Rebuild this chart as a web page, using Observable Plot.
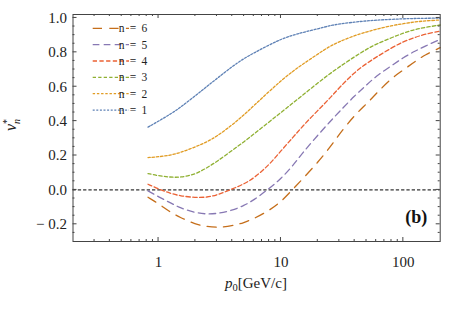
<!DOCTYPE html>
<html><head><meta charset="utf-8">
<script src="https://cdn.jsdelivr.net/npm/d3@7"></script>
<script src="https://cdn.jsdelivr.net/npm/@observablehq/plot@0.6"></script>
<style>body{margin:0;background:#fff}</style>
</head><body><div id="chart"></div>
<script>
// momentum grid p0 [GeV/c]
const p0 = [0.82, 1, 1.25, 1.5, 2, 2.5, 3, 4, 5, 6, 8, 10, 12.5, 15, 20, 25, 30, 40, 50, 60, 80, 100, 125, 150, 200];
const v1 = [0.365, 0.40, 0.441, 0.478, 0.548, 0.603, 0.648, 0.718, 0.765, 0.796, 0.843, 0.876, 0.90, 0.915, 0.937, 0.955, 0.965, 0.976, 0.983, 0.987, 0.992, 0.995, 0.997, 0.998, 0.999];
const v2 = [0.188, 0.192, 0.202, 0.216, 0.25, 0.28, 0.312, 0.378, 0.437, 0.49, 0.572, 0.635, 0.69, 0.73, 0.79, 0.835, 0.862, 0.898, 0.918, 0.935, 0.955, 0.967, 0.977, 0.983, 0.988];
const v3 = [0.095, 0.082, 0.074, 0.072, 0.09, 0.13, 0.165, 0.23, 0.28, 0.325, 0.395, 0.45, 0.505, 0.55, 0.622, 0.675, 0.715, 0.775, 0.818, 0.848, 0.885, 0.912, 0.934, 0.945, 0.959];
const v4 = [0.033, 0.005, -0.02, -0.035, -0.045, -0.043, -0.03, 0.005, 0.035, 0.068, 0.145, 0.228, 0.304, 0.37, 0.462, 0.532, 0.595, 0.685, 0.735, 0.772, 0.826, 0.862, 0.888, 0.905, 0.924];
const v5 = [-0.006, -0.04, -0.075, -0.105, -0.133, -0.141, -0.138, -0.12, -0.09, -0.06, 0.008, 0.065, 0.14, 0.215, 0.318, 0.395, 0.455, 0.548, 0.61, 0.662, 0.722, 0.77, 0.808, 0.835, 0.876];
const v6 = [-0.043, -0.08, -0.13, -0.16, -0.2, -0.213, -0.219, -0.21, -0.19, -0.168, -0.12, -0.07, 0.004, 0.063, 0.16, 0.245, 0.325, 0.435, 0.5, 0.56, 0.65, 0.697, 0.748, 0.785, 0.827];

const seriesNames = ["n = 1", "n = 2", "n = 3", "n = 4", "n = 5", "n = 6"];
const seriesValues = [v1, v2, v3, v4, v5, v6];
const seriesColors = ["#5E81B5", "#E19C24", "#8FB032", "#EB6235", "#8778B3", "#C56E1A"];
const seriesDashes = ["2,1.6", "2.4,1.8", "3.3,2.2", "4.3,2.4", "6.7,4.3", "9.3,7.3"];

const xTicks = [1, 10, 100];
const xTickLabels = ["1", "10", "100"];
const xMinorTicks = [0.3,0.4,0.5,0.6,0.7,0.8,0.9,2,3,4,5,6,7,8,9,20,30,40,50,60,70,80,90];
const yTicks = [-0.2, 0, 0.2, 0.4, 0.6, 0.8, 1.0];
const yTickLabels = ["\u2212 0.2", "0.0", "0.2", "0.4", "0.6", "0.8", "1.0"];
const yMinorTicks = [-0.25,-0.15,-0.1,-0.05,0.05,0.1,0.15,0.25,0.3,0.35,0.45,0.5,0.55,0.65,0.7,0.75,0.85,0.9,0.95];

const rows = [];
seriesNames.forEach((name, k) => p0.forEach((p, i) => rows.push({n: name, p, v: seriesValues[k][i]})));

const xLab = new Map(xTicks.map((t, i) => [t, xTickLabels[i]]));
const yLab = new Map(yTicks.map((t, i) => [t, yTickLabels[i]]));
const font = "'Liberation Serif', 'DejaVu Serif', serif";

const marks = [
  Plot.ruleY([0], {stroke: "black", strokeWidth: 1, strokeDasharray: "3.3,2"}),
  ...seriesNames.map((name, k) => Plot.line(rows.filter(d => d.n === name), {
    x: "p", y: "v", stroke: seriesColors[k], strokeWidth: 1.3,
    strokeDasharray: seriesDashes[k], curve: "basis"
  })),
  Plot.frame({stroke: "#444", strokeWidth: 1}),
  // tick labels
  Plot.axisX(xTicks, {anchor: "bottom", tickSize: 0, tickPadding: 15, tickFormat: d => xLab.get(d), label: null, fontSize: 15, fill: "#222"}),
  Plot.axisY(yTicks, {anchor: "left", tickSize: 0, tickPadding: 6, tickFormat: d => yLab.get(d), label: null, fontSize: 15, fill: "#222"}),
  Plot.text(["(b)"], {frameAnchor: "bottom-right", dx: -13, dy: -19, fontWeight: "bold", fontSize: 18, fill: "#111"})
];

const chart = Plot.plot({
  width: 454, height: 315,
  marginLeft: 72.5, marginRight: 14.3, marginTop: 14, marginBottom: 74,
  style: {fontFamily: font, background: "#fff"},
  x: {type: "log", domain: [0.2, 200], axis: null},
  y: {domain: [-0.3, 1.02], axis: null},
  marks
});
document.getElementById("chart").append(chart);

const svg = d3.select(chart);
const sx = chart.scale("x"), sy = chart.scale("y");
const [X0, X1] = sx.range, [Y0, Y1] = sy.range; // Y0 bottom, Y1 top

// inward frame ticks on all four sides, placed with Plot's scales
const tk = svg.append("g").attr("stroke", "#444").attr("stroke-width", 1);
const tickSet = (vals, len, horiz) => vals.forEach(t => {
  if (horiz) {
    const x = sx.apply(t);
    tk.append("line").attr("x1", x).attr("x2", x).attr("y1", Y0).attr("y2", Y0 - len);
    tk.append("line").attr("x1", x).attr("x2", x).attr("y1", Y1).attr("y2", Y1 + len);
  } else {
    const y = sy.apply(t);
    tk.append("line").attr("y1", y).attr("y2", y).attr("x1", X0).attr("x2", X0 + len);
    tk.append("line").attr("y1", y).attr("y2", y).attr("x1", X1).attr("x2", X1 - len);
  }
});
tickSet(xTicks, 4, true);
tickSet(xMinorTicks, 2, true);
tickSet(yTicks, 4, false);
tickSet(yMinorTicks, 2, false);

// legend
const leg = svg.append("g").attr("font-family", font).attr("font-size", 11.5).attr("fill", "#222");
const order = [5, 4, 3, 2, 1, 0];
order.forEach((k, r) => {
  const y = 28.3 + r * 16.35;
  leg.append("line").attr("x1", 92.7).attr("x2", 129).attr("y1", y).attr("y2", y)
    .attr("stroke", seriesColors[k]).attr("stroke-width", 1.3).attr("stroke-dasharray", seriesDashes[k]);
  leg.append("text").attr("x", 133).attr("y", y).attr("dy", "0.35em").attr("word-spacing", 2.5)
    .text(seriesNames[k]);
});

// axis titles
const xl = svg.append("text").attr("font-family", font).attr("font-size", 15).attr("fill", "#222")
  .attr("text-anchor", "middle").attr("x", 256).attr("y", 288);
xl.append("tspan").attr("font-style", "italic").text("p");
xl.append("tspan").attr("font-size", 10.5).attr("dy", 3).text("0");
xl.append("tspan").attr("dy", -3).text("[GeV/c]");

const yl = svg.append("text").attr("font-family", font).attr("font-size", 16).attr("fill", "#222")
  .attr("text-anchor", "middle").attr("transform", "translate(16,125) rotate(-90)");
yl.append("tspan").attr("font-style", "italic").text("v");
yl.append("tspan").attr("font-size", 10).attr("dy", -6).text("*");
yl.append("tspan").attr("font-size", 10).attr("font-style", "italic").attr("dx", -5).attr("dy", 10).text("n");
</script>
</body></html>
